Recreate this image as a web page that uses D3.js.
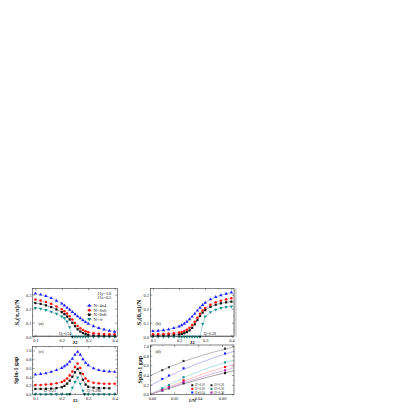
<!DOCTYPE html>
<html>
<head>
<meta charset="utf-8">
<script src="https://cdn.jsdelivr.net/npm/d3@7"></script>
<style>
  body { margin: 0; background: #fff; }
  svg { display: block; }
  text { font-family: "Liberation Serif", "DejaVu Serif", serif; fill: #111; }
</style>
</head>
<body>
<svg width="415" height="415"></svg>
<script>
// ---- data ----
let j2 = [0.10, 0.12, 0.14, 0.16, 0.18, 0.20, 0.21, 0.22, 0.23, 0.24, 0.25,
          0.26, 0.27, 0.28, 0.29, 0.30, 0.32, 0.34, 0.36, 0.38, 0.40];

// (a) S_s(pi,pi)/N
let sPiPi4 = [0.307, 0.300, 0.290, 0.275, 0.257, 0.236, 0.222, 0.207, 0.192, 0.176, 0.160,
              0.145, 0.131, 0.118, 0.104, 0.093, 0.075, 0.062, 0.052, 0.043, 0.036];
let sPiPi6 = [0.265, 0.258, 0.248, 0.234, 0.216, 0.195, 0.181, 0.165, 0.145, 0.122, 0.098,
              0.077, 0.060, 0.047, 0.038, 0.031, 0.025, 0.021, 0.019, 0.018, 0.017];
let sPiPi8 = [0.240, 0.234, 0.224, 0.211, 0.194, 0.175, 0.161, 0.144, 0.123, 0.099, 0.075,
              0.053, 0.037, 0.026, 0.018, 0.013, 0.009, 0.007, 0.006, 0.006, 0.005];
let sPiPiInf = [0.205, 0.199, 0.190, 0.178, 0.163, 0.145, 0.132, 0.108, 0.068, 0.000, 0.000,
                0.000, 0.000, 0.000, 0.000, 0.000, 0.000, 0.000, 0.000, 0.000, 0.000];

// (b) S_s(0,pi)/N
let s0Pi4 = [0.040, 0.042, 0.046, 0.052, 0.061, 0.073, 0.082, 0.093, 0.107, 0.124, 0.143,
             0.164, 0.186, 0.207, 0.226, 0.242, 0.266, 0.283, 0.296, 0.306, 0.315];
let s0Pi6 = [0.018, 0.019, 0.020, 0.022, 0.025, 0.030, 0.034, 0.040, 0.050, 0.064, 0.083,
             0.107, 0.135, 0.163, 0.186, 0.204, 0.228, 0.245, 0.257, 0.266, 0.274];
let s0Pi8 = [0.008, 0.009, 0.010, 0.011, 0.013, 0.017, 0.020, 0.025, 0.033, 0.045, 0.063,
             0.088, 0.118, 0.148, 0.172, 0.190, 0.213, 0.228, 0.238, 0.245, 0.250];
let s0PiInf = [0.000, 0.000, 0.000, 0.000, 0.000, 0.000, 0.000, 0.000, 0.000, 0.000, 0.000,
               0.000, 0.000, 0.000, 0.090, 0.145, 0.175, 0.193, 0.204, 0.211, 0.215];

// (c) spin-1 gap vs J2
let gap4 = [0.45, 0.46, 0.48, 0.51, 0.55, 0.60, 0.64, 0.68, 0.74, 0.81, 0.90,
            0.97, 0.90, 0.80, 0.72, 0.66, 0.59, 0.55, 0.53, 0.52, 0.51];
let gap6 = [0.21, 0.21, 0.22, 0.23, 0.25, 0.28, 0.31, 0.36, 0.43, 0.52, 0.62,
            0.70, 0.60, 0.46, 0.36, 0.30, 0.26, 0.25, 0.24, 0.24, 0.24];
let j2Gap8 = [0.10, 0.12, 0.14, 0.16, 0.18, 0.20, 0.21, 0.22, 0.23, 0.24, 0.25,
              0.26, 0.27, 0.28, 0.29, 0.30, 0.32, 0.34, 0.36, 0.38];
let gap8 = [0.12, 0.12, 0.125, 0.13, 0.14, 0.16, 0.19, 0.24, 0.31, 0.40, 0.50,
            0.58, 0.48, 0.33, 0.22, 0.17, 0.15, 0.14, 0.14, 0.135];
let j2GapInf = [0.10, 0.12, 0.14, 0.16, 0.18, 0.20, 0.22, 0.23, 0.24, 0.25, 0.26,
                0.27, 0.28, 0.286, 0.30, 0.32, 0.34, 0.36, 0.38, 0.40];
let gapInf = [0, 0, 0, 0, 0, 0, 0, 0, 0.15, 0.28, 0.38,
              0.24, 0.08, 0, 0, 0, 0, 0, 0, 0];

// (d) spin-1 gap vs 1/N, with fitted curves
let invN = [0.01, 0.0156, 0.0278, 0.0625];
let fitX = [0, 0.0175, 0.035, 0.0525, 0.07];
let dLabels = ['J2=0.10', 'J2=0.20', 'J2=0.24', 'J2=0.26', 'J2=0.30', 'J2=0.36'];
let dGap010 = [0.08, 0.125, 0.23, 0.44];
let dGap020 = [0.10, 0.155, 0.29, 0.565];
let dGap024 = [0.32, 0.39, 0.54, 0.845];
let dGap026 = [0.50, 0.56, 0.69, 0.945];
let dGap030 = [0.125, 0.195, 0.355, 0.66];
let dGap036 = [0.09, 0.14, 0.26, 0.495];
let dFit010 = [0.0, 0.14, 0.27, 0.385, 0.49];
let dFit020 = [0.0, 0.175, 0.34, 0.49, 0.62];
let dFit024 = [0.185, 0.40, 0.59, 0.75, 0.89];
let dFit026 = [0.39, 0.58, 0.74, 0.87, 0.98];
let dFit030 = [0.0, 0.22, 0.42, 0.58, 0.71];
let dFit036 = [0.0, 0.155, 0.30, 0.43, 0.55];

let sizeLabels = ['N=4x4', 'N=6x6', 'N=8x8', 'N=\u221e'];

// ---- drawing ----
let svg = d3.select('svg');

let styles = {
  blue:  { mark: '#1f1fff', line: '#8c8cff', sym: d3.symbolTriangle, rot: 0 },
  red:   { mark: '#ff1010', line: '#ff8a8a', sym: d3.symbolCircle, rot: 0 },
  black: { mark: '#111111', line: '#666666', sym: d3.symbolSquare, rot: 0 },
  teal:  { mark: '#1d9191', line: '#6fc0c0', sym: d3.symbolTriangle, rot: 180 },
  gray:  { mark: '#333333', line: '#8a8a8a', sym: d3.symbolSquare, rot: 0 },
  dblue: { mark: '#1f1fff', line: '#8c8cff', sym: d3.symbolSquare, rot: 0 },
  dteal: { mark: '#1d9191', line: '#7fcaca', sym: d3.symbolSquare, rot: 0 },
  mag:   { mark: '#b01fb0', line: '#c98ac9', sym: d3.symbolSquare, rot: 0 },
  dred:  { mark: '#ff1010', line: '#ff9a9a', sym: d3.symbolSquare, rot: 0 }
};

function makePanel(o) {
  let g = svg.append('g');
  let x = d3.scaleLinear().domain(o.xd).range([o.left, o.right]);
  let y = d3.scaleLinear().domain(o.yd).range([o.bottom, o.top]);

  if (o.band) {
    g.append('rect')
      .attr('x', o.left).attr('y', o.bottom - 1.6)
      .attr('width', o.right - o.left).attr('height', 1.6)
      .attr('fill', '#c8c8c8');
  }

  let plot = g.append('g');
  return { g: g, plot: plot, x: x, y: y, o: o };
}

function drawSeries(p, xs, ys, st, opts) {
  opts = opts || {};
  let line = d3.line()
    .x(function(d) { return p.x(d[0]); })
    .y(function(d) { return p.y(d[1]); })
    .curve(opts.curve || d3.curveLinear);
  let pts = xs.map(function(v, i) { return [v, ys[i]]; });
  if (!opts.noLine) {
    p.plot.append('path')
      .datum(opts.lineData || pts)
      .attr('fill', 'none')
      .attr('stroke', st.line)
      .attr('stroke-width', 0.6)
      .attr('d', line);
  }
  p.plot.selectAll(null)
    .data(pts)
    .enter().append('path')
    .attr('d', d3.symbol().type(st.sym).size(opts.size || 5))
    .attr('fill', st.mark)
    .attr('transform', function(d) {
      return 'translate(' + p.x(d[0]) + ',' + p.y(d[1]) + ') rotate(' + st.rot + ')';
    });
}

function finishPanel(p, xt, xm, xf, yt, ym, yf, bottomPad) {
  let o = p.o, g = p.g;
  let axes = [
    [d3.axisBottom(p.x), o.bottom, xt, xm, xf, 'x'],
    [d3.axisTop(p.x), o.top, xt, xm, null, 'x'],
    [d3.axisLeft(p.y), o.left, yt, ym, yf, 'y'],
    [d3.axisRight(p.y), o.right, yt, ym, null, 'y']
  ];
  axes.forEach(function(a, k) {
    let major = a[0].tickValues(a[2]).tickSize(-2).tickPadding(k === 0 ? (bottomPad || 2) : 1.4)
      .tickFormat(a[4] ? a[4] : function() { return ''; });
    let ag = g.append('g')
      .attr('transform', a[5] === 'x' ? 'translate(0,' + a[1] + ')' : 'translate(' + a[1] + ',0)')
      .call(major);
    ag.select('.domain').remove();
    ag.selectAll('line').attr('stroke', '#222').attr('stroke-width', 0.45);
    ag.selectAll('text').attr('font-size', 4.3).attr('font-family', null).attr('fill', '#111');
    let mg = g.append('g')
      .attr('transform', a[5] === 'x' ? 'translate(0,' + a[1] + ')' : 'translate(' + a[1] + ',0)')
      .call(a[0].tickValues(a[3]).tickSize(-1).tickFormat(function() { return ''; }));
    mg.select('.domain').remove();
    mg.selectAll('line').attr('stroke', '#222').attr('stroke-width', 0.4);
  });
  g.append('rect')
    .attr('x', o.left).attr('y', o.top)
    .attr('width', o.right - o.left).attr('height', o.bottom - o.top)
    .attr('fill', 'none').attr('stroke', '#222').attr('stroke-width', 0.55);
}

function xTitle(p, txt, yPos) {
  p.g.append('text')
    .attr('x', (p.o.left + p.o.right) / 2).attr('y', yPos)
    .attr('text-anchor', 'middle').attr('font-size', 5).attr('font-weight', 'bold')
    .text(txt);
}

function yTitle(p, xPos, parts, size) {
  let t = p.g.append('text')
    .attr('transform', 'translate(' + xPos + ',' + (p.o.top + p.o.bottom) / 2 + ') rotate(-90)')
    .attr('text-anchor', 'middle').attr('font-size', size).attr('font-weight', 'bold');
  parts.forEach(function(s) {
    let ts = t.append('tspan').text(s[0]);
    if (s[1]) ts.attr('font-size', size * 0.7).attr('dy', 1.4);
    else if (s[2]) ts.attr('dy', -1.4);
  });
}

function note(p, txt, xPos, yPos, anchor, size) {
  p.g.append('text')
    .attr('x', xPos).attr('y', yPos)
    .attr('text-anchor', anchor || 'start')
    .attr('font-size', size || 3.9)
    .text(txt);
}

let fmt1 = d3.format('.1f');
let fmt2 = d3.format('.2f');
let xJ2 = [0.1, 0.2, 0.3, 0.4];
let xJ2m = [0.15, 0.25, 0.35];

// (a)
let pa = makePanel({ xd: [0.09, 0.41], yd: [0, 0.345], left: 32.7, right: 117.3, top: 288.3, bottom: 336.7, band: true });
drawSeries(pa, j2, sPiPiInf, styles.teal);
drawSeries(pa, j2, sPiPi8, styles.black);
drawSeries(pa, j2, sPiPi6, styles.red);
drawSeries(pa, j2, sPiPi4, styles.blue);
finishPanel(pa, xJ2, xJ2m, fmt1, [0, 0.1, 0.2, 0.3], [0.05, 0.15, 0.25], fmt1);
xTitle(pa, 'J2', 344);
yTitle(pa, 18.5, [['S'], ['s', true], ['(\u03c0,\u03c0)/N', false, true]], 6.8);
note(pa, '(a)', 38.5, 324.5, 'start', 4.6);
note(pa, 'J1y=1.0', 97.5, 294.5, 'start', 4.3);
note(pa, 'J1x=0.5', 97.5, 299, 'start', 4.3);
note(pa, 'J2=0.24', pa.x(0.236), 334.6, 'end');
pa.g.append('circle').attr('cx', pa.x(0.24)).attr('cy', pa.y(0)).attr('r', 0.9).attr('fill', '#111');
[styles.blue, styles.red, styles.black, styles.teal].forEach(function(st, i) {
  let yy = 305.7 + i * 4.5;
  pa.g.append('line').attr('x1', 86.3).attr('x2', 92.3).attr('y1', yy).attr('y2', yy)
    .attr('stroke', st.line).attr('stroke-width', 0.6);
  pa.g.append('path').attr('d', d3.symbol().type(st.sym).size(6.5)())
    .attr('fill', st.mark)
    .attr('transform', 'translate(89.3,' + yy + ') rotate(' + st.rot + ')');
  note(pa, sizeLabels[i], 93.5, yy + 1.6, 'start', 4.6);
});

// (b)
let pb = makePanel({ xd: [0.09, 0.41], yd: [0, 0.345], left: 150.3, right: 234, top: 288.3, bottom: 336.7, band: true });
pb.g.append('rect').attr('x', 234.3).attr('y', 288.3).attr('width', 2.4).attr('height', 48.4).attr('fill', '#d4d4d4');
drawSeries(pb, j2, s0PiInf, styles.teal);
drawSeries(pb, j2, s0Pi8, styles.black);
drawSeries(pb, j2, s0Pi6, styles.red);
drawSeries(pb, j2, s0Pi4, styles.blue);
finishPanel(pb, xJ2, xJ2m, fmt1, [0, 0.1, 0.2, 0.3], [0.05, 0.15, 0.25], fmt1);
xTitle(pb, 'J2', 344);
yTitle(pb, 140.5, [['S'], ['s', true], ['(0,\u03c0)/N', false, true]], 6.8);
note(pb, '(b)', 155.5, 324.5, 'start', 4.6);
note(pb, 'J2=0.28', pb.x(0.293), 334.6);
pb.g.append('circle').attr('cx', pb.x(0.28)).attr('cy', pb.y(0)).attr('r', 0.9).attr('fill', '#111');

// (c)
let pc = makePanel({ xd: [0.09, 0.41], yd: [0, 1.09], left: 32.7, right: 117.3, top: 346.5, bottom: 394.2 });
drawSeries(pc, j2GapInf, gapInf, styles.teal);
drawSeries(pc, j2Gap8, gap8, styles.black);
drawSeries(pc, j2, gap6, styles.red);
drawSeries(pc, j2, gap4, styles.blue);
finishPanel(pc, xJ2, xJ2m, fmt1, [0, 0.2, 0.4, 0.6, 0.8, 1.0], [0.1, 0.3, 0.5, 0.7, 0.9], fmt1, 2.6);
xTitle(pc, 'J2', 402.4);
yTitle(pc, 17.5, [['Spin-1 gap']], 6);
note(pc, '(c)', 38.5, 352.5, 'start', 4.6);
note(pc, 'J2=0.23', pc.x(0.178), 392.4, 'end');
note(pc, 'J2=0.286', pc.x(0.294), 392.4);
pc.g.append('circle').attr('cx', pc.x(0.23)).attr('cy', pc.y(0)).attr('r', 0.9).attr('fill', '#111');
pc.g.append('circle').attr('cx', pc.x(0.286)).attr('cy', pc.y(0)).attr('r', 0.9).attr('fill', '#111');

// (d)
let pd = makePanel({ xd: [0, 0.07], yd: [0, 1.02], left: 150.3, right: 234, top: 345, bottom: 394.4 });
let dSets = [
  [dGap010, dFit010, styles.black],
  [dGap020, dFit020, styles.dred],
  [dGap024, dFit024, styles.dblue],
  [dGap026, dFit026, styles.gray],
  [dGap030, dFit030, styles.dteal],
  [dGap036, dFit036, styles.mag]
];
dSets.forEach(function(s) {
  let fitPts = fitX.map(function(v, i) { return [v, s[1][i]]; });
  drawSeries(pd, invN, s[0], s[2], { lineData: fitPts, curve: d3.curveMonotoneX, size: 4.5 });
});
finishPanel(pd, [0, 0.02, 0.04, 0.06], [0.01, 0.03, 0.05], fmt2,
  [0, 0.2, 0.4, 0.6, 0.8, 1.0], [0.1, 0.3, 0.5, 0.7, 0.9], fmt1, 2.6);
// nudge the first x label right so it clears the 0.0 label on the y axis
pd.g.selectAll('.tick text').filter(function(d) { return d === 0 && this.textContent === '0.00'; })
  .attr('dx', 1.6);
xTitle(pd, '1/N', 402.4);
yTitle(pd, 141.5, [['Spin-1 gap']], 6);
note(pd, '(d)', 155.5, 352.5, 'start', 4.6);
dSets.forEach(function(s, i) {
  let col = Math.floor(i / 3), row = i % 3;
  let mx = col === 0 ? 192.3 : 211.5;
  let yy = 385.3 + row * 3.6;
  pd.g.append('path').attr('d', d3.symbol().type(s[2].sym).size(4.5)())
    .attr('fill', s[2].mark)
    .attr('transform', 'translate(' + mx + ',' + yy + ')');
  note(pd, dLabels[i], mx + 2.6, yy + 1.1, 'start', 3.1);
});
</script>
</body>
</html>
